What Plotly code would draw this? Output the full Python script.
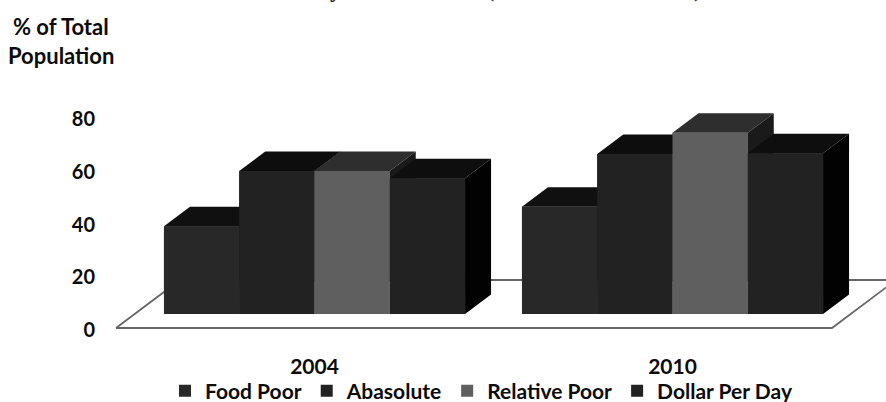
import plotly.graph_objects as go

years = ["2004", "2010"]
year_pos = [0, 1]
series_names = ["Food Poor", "Abasolute", "Relative Poor", "Dollar Per Day"]
food_poor = [38.6, 46.0]
abasolute = [59.5, 66.0]
relative_poor = [59.5, 74.0]
dollar_per_day = [56.8, 66.3]
series_values = [food_poor, abasolute, relative_poor, dollar_per_day]
y_ticks = [0, 20, 40, 60, 80]

front_cols = ["#282828", "#222222", "#5f5f5f", "#222222"]
top_cols = ["#101010", "#0d0d0d", "#2e2e2e", "#0e0e0e"]
side_cols = ["#050505", "#050505", "#1a1a1a", "#020202"]

FONT = "Lato"
INK = "#0c0c0c"
W, H = 886, 430       # taller than the 402 window so the legend cannot push the margins
L = 96
AXIS_PX = 352
LEGEND_PX = 391
PX_X = 358.0          # pixels per x unit
PX_Y = 2.6375         # pixels per y unit
X0_PX = 314.5
Y0_PX = 328.0

xr = [(L - X0_PX) / PX_X, (W - X0_PX) / PX_X]
yr = [(Y0_PX - H) / PX_Y, Y0_PX / PX_Y]

bargap = 0.159
bw = (1 - bargap) / 4
base = 14 / PX_Y
dx = 26 / PX_X
dy = 19.5 / PX_Y

fig = go.Figure()

# floor
fx, fy = 64 / PX_X, 48 / PX_Y
fl, fr = (116 - X0_PX) / PX_X, (832 - X0_PX) / PX_X
fig.add_trace(go.Scatter(
    x=[fl, fr, fr + fx, fl + fx, fl], y=[0, 0, fy, fy, 0],
    mode="lines", line=dict(color="#666666", width=1.8), fill="toself",
    fillcolor="#ffffff", showlegend=False, hoverinfo="skip"))

# series (legend and base faces)
for i, name in enumerate(series_names):
    fig.add_trace(go.Bar(
        name=name, x=year_pos, y=[v - base for v in series_values[i]], base=base,
        marker=dict(color=front_cols[i], line=dict(width=0)), hoverinfo="skip"))


def poly(xs, ys, col):
    fig.add_trace(go.Scatter(
        x=xs, y=ys, mode="lines", line=dict(width=0, color=col), fill="toself",
        fillcolor=col, showlegend=False, hoverinfo="skip"))


# depth faces, painted left to right so that later bars hide earlier sides
for g, c in enumerate(year_pos):
    for i in range(4):
        v = series_values[i][g]
        x1 = c + (i - 2) * bw
        x2 = x1 + bw
        poly([x1, x2, x2 + dx, x1 + dx, x1], [v, v, v + dy, v + dy, v], top_cols[i])
        poly([x2, x2 + dx, x2 + dx, x2, x2], [base, base + dy, v + dy, v, base], side_cols[i])
        poly([x1, x2, x2, x1, x1], [base, base, v, v, base], front_cols[i])

anns = [
    dict(x=61, y=27, text="<b>% of Total</b>", size=22, family=FONT),
    dict(x=61, y=55, text="<b>Population</b>", size=22, family=FONT),
    dict(x=335, y=-10, text="<b>y</b>", size=22, family="Liberation Serif"),
    dict(x=490, y=-10, text="(", size=22, family="Liberation Serif"),
    dict(x=697, y=-10, text=")", size=22, family="Liberation Serif"),
]
annotations = [dict(xref="paper", yref="paper", x=(a["x"] - L) / (W - L), y=1 - a["y"] / H,
                    text=a["text"], showarrow=False, xanchor="center", yanchor="middle",
                    font=dict(family=a["family"], size=a["size"], color=INK)) for a in anns]

fig.update_layout(
    width=W, height=H, autosize=False,
    margin=dict(l=L, r=0, t=0, b=0, pad=0),
    paper_bgcolor="white", plot_bgcolor="white",
    barmode="group", bargap=bargap, bargroupgap=0,
    xaxis=dict(range=xr, tickmode="array", tickvals=year_pos, ticktext=years,
               anchor="free", position=(H - AXIS_PX) / H,
               showgrid=False, zeroline=False, showline=False, ticks="",
               tickfont=dict(family=FONT, size=21, color=INK, weight="bold")),
    yaxis=dict(range=yr, tickmode="array", tickvals=y_ticks, ticklabelshift=2,
               showgrid=False, zeroline=False, showline=False, ticks="",
               tickfont=dict(family=FONT, size=20, color=INK, weight="bold")),
    legend=dict(orientation="h", x=(165 - L) / (W - L), xanchor="left",
                y=(H - LEGEND_PX) / H, yanchor="middle",
                bgcolor="rgba(0,0,0,0)", traceorder="normal",
                font=dict(family=FONT, size=21, color=INK, weight="bold")),
    annotations=annotations,
    showlegend=True,
)
fig.write_html("out.html", config=dict(displayModeBar=False),
               post_script="document.documentElement.style.overflow='hidden';document.body.style.margin='0';document.body.style.overflow='hidden';")
